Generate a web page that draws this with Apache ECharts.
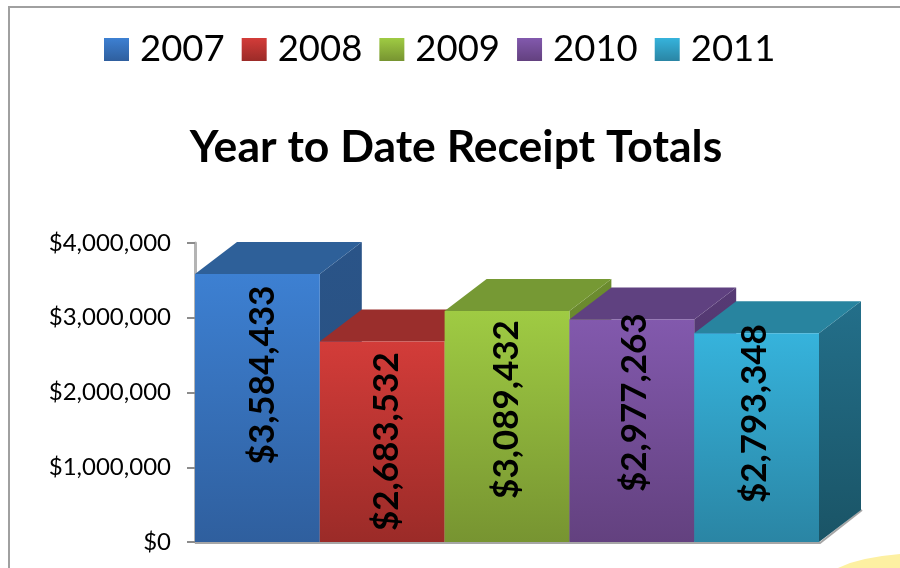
<!DOCTYPE html>
<html>
<head>
<meta charset="utf-8">
<style>
  html, body { margin: 0; padding: 0; background: #fff; }
  #main { width: 900px; height: 568px; }
</style>
</head>
<body>
<div id="main"></div>
<script src="https://cdn.jsdelivr.net/npm/echarts@6/dist/echarts.min.js"></script>
<script>
const years = ['2007', '2008', '2009', '2010', '2011'];
const receipts = [3584433, 2683532, 3089432, 2977263, 2793348];
const tickValues = ['$0', '$1,000,000', '$2,000,000', '$3,000,000', '$4,000,000'];

// front top, front bottom, top face, side top, side bottom
const barColors = [
  ['#3d80d2', '#2f5f9e', '#2e6099', '#2a5488', '#28507f'],
  ['#d33c39', '#9b2b28', '#9a2e2c', '#8a2a28', '#7a2422'],
  ['#9fcb43', '#779431', '#769934', '#6c8c2f', '#5f7c28'],
  ['#8259ad', '#63417f', '#5f4180', '#563a74', '#4c3368'],
  ['#36b3dc', '#2a85a4', '#28849f', '#236f8a', '#1a5466']
];
// where each rotated label sits compared to the middle of its bar
const labelShiftX = [5, 5, 0, 3, -2];
const labelShiftY = [-33, 0, -17, -28, -24];

const depthX = 42;
const depthY = 32;

function money(v) {
  return '$' + String(v).replace(/\B(?=(\d{3})+$)/g, ',');
}

function vGrad(from, to) {
  return new echarts.graphic.LinearGradient(0, 0, 0, 1, [
    { offset: 0, color: from },
    { offset: 1, color: to }
  ]);
}

function renderBar(params, api) {
  const i = api.value(0);
  const c = barColors[i];
  const topPt = api.coord([i, api.value(1)]);
  const basePt = api.coord([i, 0]);
  const w = api.size([1, 0])[0];
  const x0 = topPt[0] - w / 2;
  const x1 = topPt[0] + w / 2;
  const yt = topPt[1];
  const yb = basePt[1];
  return {
    type: 'group',
    children: [
      {
        type: 'polyline',
        shape: { points: [[x0, yb + 1], [x1 + 1, yb + 1], [x1 + depthX + 1, yb - depthY]] },
        style: { stroke: '#a6a6a6', lineWidth: 2, fill: null }
      },
      {
        type: 'polygon',
        shape: { points: [[x1, yt], [x1 + depthX, yt - depthY], [x1 + depthX, yb - depthY], [x1, yb]] },
        style: { fill: vGrad(c[3], c[4]) }
      },
      {
        type: 'polygon',
        shape: { points: [[x0, yt], [x0 + depthX, yt - depthY], [x1 + depthX, yt - depthY], [x1, yt]] },
        style: { fill: c[2] }
      },
      {
        type: 'rect',
        shape: { x: x0, y: yt, width: w, height: yb - yt },
        style: { fill: vGrad(c[0], c[1]) }
      },
      {
        type: 'text',
        x: topPt[0] + labelShiftX[i],
        y: (yt + yb) / 2 + labelShiftY[i],
        rotation: Math.PI / 2,
        style: {
          text: money(api.value(1)),
          fill: '#000',
          font: 'bold 35px Lato',
          align: 'center',
          verticalAlign: 'middle'
        }
      }
    ]
  };
}

const chart = echarts.init(document.getElementById('main'));

const option = {
  animation: false,
  backgroundColor: '#fff',
  title: {
    text: 'Year to Date Receipt Totals',
    left: 451,
    top: 120,
    textAlign: 'center',
    textStyle: { fontFamily: 'Lato', fontWeight: 'bold', fontSize: 44.5, color: '#000' }
  },
  legend: {
    data: years,
    left: 99,
    top: 26,
    icon: 'rect',
    itemWidth: 25,
    itemHeight: 23,
    itemGap: 17,
    selectedMode: false,
    textStyle: { fontFamily: 'Lato', fontSize: 36.5, color: '#000', padding: [0, 0, 0, 6] }
  },
  grid: { left: 195, right: 81, top: 243, bottom: 26 },
  xAxis: {
    type: 'category',
    data: years,
    axisLabel: { show: false },
    axisTick: { show: false },
    axisLine: { show: false }
  },
  yAxis: {
    type: 'value',
    min: 0,
    max: 4000000,
    interval: 1000000,
    splitLine: { show: false },
    axisLine: { show: true, lineStyle: { color: '#b4b4b4', width: 3 } },
    axisTick: { show: true, length: 8, lineStyle: { color: '#8c8c8c', width: 2 } },
    axisLabel: {
      margin: 24,
      padding: [5, 0, 0, 0],
      fontFamily: 'Lato',
      fontSize: 24,
      color: '#000',
      formatter: (v) => tickValues[v / 1000000]
    }
  },
  series: years.map((y, i) => ({
    name: y,
    type: 'custom',
    renderItem: renderBar,
    clip: false,
    silent: true,
    encode: { x: 0, y: 1 },
    itemStyle: { color: vGrad(barColors[i][0], barColors[i][1]) },
    data: [[i, receipts[i]]]
  })),
  graphic: [
    {
      type: 'polyline',
      silent: true,
      shape: { points: [[9, 568], [9, 7], [900, 7]] },
      style: { stroke: '#a0a0a0', lineWidth: 2, fill: null }
    },
    {
      type: 'polygon',
      silent: true,
      shape: { points: [[838, 568], [850, 563], [865, 559], [882, 556], [900, 554], [900, 568]] },
      style: { fill: '#fdf0a2' }
    }
  ]
};

chart.setOption(option);
window.addEventListener('resize', () => chart.resize());
</script>
</body>
</html>
